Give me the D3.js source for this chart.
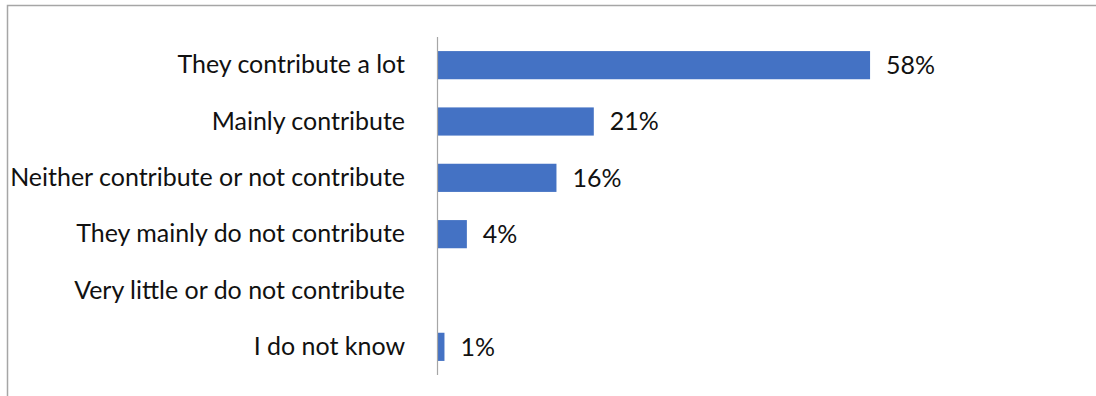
<!DOCTYPE html>
<html>
<head>
<meta charset="utf-8">
<script src="https://cdn.jsdelivr.net/npm/d3@7/dist/d3.min.js"></script>
<style>
  html, body { margin: 0; padding: 0; background: #fff; }
  svg { display: block; }
</style>
</head>
<body>
<svg id="chart" width="1096" height="396"></svg>
<script>
// Survey answers, top to bottom
const categories = [
  "They contribute a lot",
  "Mainly contribute",
  "Neither contribute or not contribute",
  "They mainly do not contribute",
  "Very little or do not contribute",
  "I do not know"
];
// Share of respondents, percent
const values = [58, 21, 16, 4, 0, 1];

const W = 1096, H = 396;
const svg = d3.select("#chart");
const fontFamily = "Lato, 'Open Sans', sans-serif";

// outer frame (top and left edges visible)
svg.append("rect")
  .attr("x", 7.5).attr("y", 5.5)
  .attr("width", W + 10).attr("height", H + 10)
  .attr("fill", "none").attr("stroke", "#a6a6a6").attr("stroke-width", 1.5);

const axisX = 437;
const y = d3.scaleBand()
  .domain(categories)
  .range([37, 375])
  .paddingInner(0.5)
  .paddingOuter(0.25);

const x = d3.scaleLinear().domain([0, 60]).range([axisX, axisX + 448]);

// pick a label size so the longest category fills its column
const labelRight = 405;
const probe = svg.append("text").attr("font-family", fontFamily).attr("font-size", 20)
  .text(categories.reduce((a, b) => a.length > b.length ? a : b));
const w20 = probe.node().getComputedTextLength();
probe.remove();
const fontSize = Math.min(30, 20 * 395 / w20);

// bars
svg.append("g").selectAll("rect")
  .data(categories.map((c, i) => ({ c, v: values[i] })))
  .join("rect")
  .attr("x", x(0))
  .attr("y", d => y(d.c))
  .attr("width", d => x(d.v) - x(0))
  .attr("height", y.bandwidth())
  .attr("fill", "#4472c4");

// value labels
svg.append("g").selectAll("text")
  .data(categories.map((c, i) => ({ c, v: values[i] })).filter(d => d.v > 0))
  .join("text")
  .attr("x", d => x(d.v) + 16)
  .attr("y", d => y(d.c) + y.bandwidth() / 2)
  .attr("dy", "0.35em")
  .attr("font-family", fontFamily)
  .attr("font-size", fontSize)
  .attr("fill", "#111")
  .text(d => d.v + "%");

// category axis
const yAxis = d3.axisLeft(y).tickSize(0).tickPadding(axisX - labelRight);
const ga = svg.append("g").attr("transform", `translate(${axisX},0)`).call(yAxis);
ga.select(".domain").attr("stroke", "#a6a6a6").attr("stroke-width", 1.2)
  .attr("d", `M0.5,37V375`);
ga.selectAll(".tick text")
  .attr("font-family", fontFamily)
  .attr("font-size", fontSize)
  .attr("fill", "#111");
</script>
</body>
</html>
